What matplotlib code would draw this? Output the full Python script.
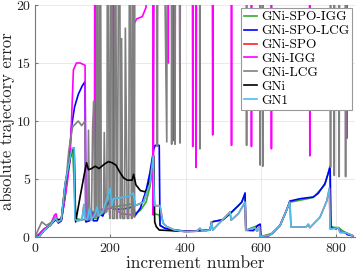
import matplotlib
matplotlib.use("Agg")
import matplotlib.pyplot as plt

plt.rcParams['font.family'] = ['cmr10', 'DejaVu Serif']
plt.rcParams['axes.formatter.use_mathtext'] = True
plt.rcParams['mathtext.fontset'] = 'cm'

# ---------------- data (increment number, absolute trajectory error) -------------
spo_igg_x = [0, 10, 25, 40, 55, 62, 70, 80, 90, 97, 100, 108, 120, 135, 145, 150, 155, 165, 172, 180, 190, 200, 205,
             208, 230, 250, 262, 265, 280, 295, 305, 310, 314, 316, 330, 333, 345, 370, 400, 440, 465, 469, 500, 522, 549,
             558, 560, 592, 598, 600, 630, 651, 668, 677, 739, 770, 783, 786, 806, 823, 845]
spo_igg_y = [0, 0.2, 0.7, 1.0, 1.7, 1.3, 1.5, 3.6, 6.4, 7.5, 7.6, 1.6, 1.5, 1.5, 1.6, 2.3, 1.6, 1.6, 2.1, 1.9, 2.8, 3.3, 3.3,
             2.6, 2.7, 2.8, 2.9, 2.0, 2.3, 3.0, 4.3, 5.3, 6.0, 2.0, 1.9, 1.0, 0.75, 0.6, 0.5, 0.55, 0.6, 1.3, 1.5, 2.1, 3.0,
             3.6, 0.58, 1.0, 1.1, 0.05, 0.3, 1.0, 2.3, 3.0, 3.4, 4.5, 6.0, 0.86, 0.8, 0.4, 0.1]

spo_lcg_x = [0, 10, 25, 40, 55, 62, 70, 80, 90, 97, 105, 115, 125, 133, 135, 145, 150, 155, 165, 172, 180, 190, 200, 205,
             208, 230, 250, 262, 265, 280, 295, 305, 315, 319, 330, 332, 345, 370, 400, 440, 465, 469, 500, 522, 540, 549,
             558, 560, 580, 592, 598, 600, 620, 630, 651, 668, 677, 704, 739, 752, 770, 779, 784, 786, 800, 806, 812, 823,
             830, 845]
spo_lcg_y = [0, 0.2, 0.7, 1.0, 1.6, 1.2, 1.4, 3.5, 6.5, 9.5, 11.2, 12.3, 13.0, 13.4, 1.3, 1.4, 2.2, 1.4, 1.4, 2.0, 1.8,
             2.6, 3.2, 3.3, 2.4, 2.4, 2.5, 2.7, 1.8, 2.5, 4.0, 5.5, 7.5, 7.9, 7.9, 1.0, 0.75, 0.6, 0.5, 0.55, 0.6, 1.3,
             1.5, 2.15, 2.7, 3.0, 3.8, 0.58, 0.55, 1.0, 1.1, 0.05, 0.1, 0.3, 1.0, 2.3, 3.1, 3.3, 3.45, 3.75, 4.6, 5.5, 6.1,
             0.86, 0.7, 0.8, 0.4, 0.4, 0.2, 0.1]

spo_x = [0, 10, 25, 40, 55, 62, 70, 80, 98, 104, 106, 115, 125, 130, 133, 140, 145, 150, 160, 165, 170, 180, 190, 200,
         204, 208, 230, 250, 261, 266, 288, 305, 314, 317, 332, 340, 350, 370, 400, 430, 438, 445, 465, 469, 472, 518, 521,
         540, 558, 560, 584, 590, 596, 598, 624, 651, 668, 677, 680, 720, 726, 730, 757, 775, 782, 784, 806, 810, 823, 845]
spo_y = [0, 0.0, 0.6, 1.0, 1.6, 1.3, 1.5, 4.6, 7.6, 7.7, 1.5, 1.4, 1.5, 2.8, 1.5, 1.6, 2.5, 1.5, 2.0, 2.6, 1.8, 2.2, 3.2,
         4.2, 2.7, 3.3, 3.4, 3.5, 3.8, 2.7, 3.0, 4.6, 7.0, 2.7, 2.7, 1.2, 0.9, 0.6, 0.45, 0.5, 0.75, 0.5, 0.6, 1.3, 0.6,
         2.15, 1.45, 2.0, 3.0, 0.58, 0.8, 0.5, 0.9, 0.05, 0.15, 1.0, 2.3, 3.0, 0.86, 0.86, 1.1, 0.8, 1.7, 3.1, 4.2, 0.7,
         0.8, 0.4, 0.4, 0.1]

igg_x = [0, 10, 25, 40, 52, 56, 60, 70, 85, 93, 102, 110, 120, 133, 135, 150, 158, 159, 161, 205, 207, 209, 230, 261,
         262, 270, 285, 295, 300, 312, 314, 318, 352, 354, 356, 364, 366, 368, 383, 385, 387, 417, 419, 421, 426, 428,
         430, 470, 472, 474, 520, 522, 524, 573, 575, 577, 626, 628, 630, 728, 730, 732, 826, 828, 830, 850]
igg_y = [0, 0.2, 0.7, 1.0, 1.9, 2.0, 1.3, 1.5, 4.5, 6.6, 14.4, 15.0, 15.0, 14.8, 1.6, 1.6, 2.3, 40, 2.3, 2.5, 40, 2.5, 2.0,
         1.9, 18.3, 18.8, 19.0, 19.8, 40, 40, 1.9, 40, 40, 15.0, 40, 40, 8.3, 40, 40, 8.3, 40, 40, 7.8, 40, 40, 6.0,
         40, 40, 8.8, 40, 40, 7.9, 40, 40, 7.8, 40, 40, 7.6, 40, 40, 7.0, 40, 40, 8.5, 40, 40]

lcg_x = [0, 8, 18, 30, 45, 55, 60, 70, 80, 90, 100, 115, 124, 133, 135, 140, 142, 145, 150, 153, 156, 159, 163, 166,
         168, 171, 173, 176, 182, 184, 187, 191, 193, 197, 199, 203, 206, 211, 213, 217, 219, 224, 227, 230, 233, 238,
         240, 245, 249, 252, 256, 258, 261, 264, 266, 323, 325, 327, 338, 350, 352, 361, 363, 365, 370, 372, 374, 383,
         385, 387, 436, 438, 440, 560, 562, 564, 596, 598, 601, 603, 605, 607, 783, 785, 787, 793, 795, 797, 806, 808,
         810, 823, 825, 827, 850]
lcg_y = [0, 0.6, 1.3, 1.0, 1.3, 1.7, 1.4, 1.6, 4.0, 7.5, 9.5, 10.0, 9.6, 10.0, 1.5, 1.5, 9.2, 1.5, 1.6, 9.4, 11.7, 1.7,
         1.8, 40, 1.9, 1.9, 40, 2.0, 2.1, 9.0, 2.1, 2.2, 40, 2.4, 1.6, 40, 1.6, 1.6, 40, 1.6, 1.6, 40, 1.6, 17.1, 1.6,
         1.6, 18.0, 1.6, 1.6, 40, 1.6, 1.6, 40, 1.7, 40, 40, 7.8, 40, 40, 8.2, 40, 40, 8.0, 40, 40, 8.0, 40, 40, 8.1,
         40, 40, 7.6, 40, 40, 7.9, 40, 40, 6.2, 40, 40, 6.1, 40, 40, 6.0, 40, 40, 5.3, 40, 40, 5.2, 40, 40, 5.2, 40, 40]

gni_x = [0, 10, 25, 40, 55, 62, 70, 80, 98, 104, 108, 120, 132, 137, 142, 150, 160, 170, 185, 195, 205, 215, 225, 235,
         245, 258, 262, 268, 280, 292, 300, 308, 315, 318, 322, 330, 360, 380]
gni_y = [0, 0.0, 0.6, 1.0, 1.5, 1.5, 1.5, 4.5, 7.5, 7.6, 1.3, 3.5, 5.6, 6.4, 5.8, 5.9, 6.1, 5.9, 6.3, 6.5, 6.4, 6.2, 5.6,
         5.1, 4.9, 4.9, 5.4, 4.5, 4.0, 3.9, 4.2, 5.5, 7.0, 1.3, 0.9, 0.6, 0.55, 0.5]

gn1_x = spo_x
gn1_y = spo_y

series = [
    ("GNi-SPO-IGG", spo_igg_x, spo_igg_y, "#33aa33"),
    ("GNi-SPO-LCG", spo_lcg_x, spo_lcg_y, "#0000ff"),
    ("GNi-SPO", spo_x, spo_y, "#ff2020"),
    ("GNi-IGG", igg_x, igg_y, "#ff00ff"),
    ("GNi-LCG", lcg_x, lcg_y, "#808080"),
    ("GNi", gni_x, gni_y, "#000000"),
    ("GN1", gn1_x, gn1_y, "#4dbeee"),
]

x_ticks = [0, 200, 400, 600, 800]
y_ticks = [0, 5, 10, 15, 20]

fig = plt.figure(figsize=(3.57, 2.73), dpi=100)
ax = fig.add_axes([35 / 357, 36 / 273, 320 / 357, 232 / 273])
for name, xs, ys, c in series:
    ax.plot(xs, ys, color=c, lw=1.2, label=name)

ax.set_xlim(0, 850)
ax.set_ylim(0, 20)
ax.set_xticks(x_ticks)
ax.set_yticks(y_ticks)
ax.grid(True, color="#e6e6e6", lw=0.6)
ax.set_axisbelow(True)
for s in ["top", "right"]:
    ax.spines[s].set_visible(False)
for s in ["left", "bottom"]:
    ax.spines[s].set_color("#777777")
    ax.spines[s].set_linewidth(0.8)
ax.tick_params(direction="in", length=2.5, colors="#777777", labelcolor="#222222", labelsize=10)
ax.tick_params(axis="x", pad=3.5)
ax.tick_params(axis="y", pad=3)
ax.set_xlabel("increment number", fontsize=12.5, color="#222222")
ax.set_ylabel("absolute trajectory error", fontsize=12, color="#222222")
ax.xaxis.set_label_coords(0.5, -0.0797)
ax.yaxis.set_label_coords(-0.061, 0.5)

leg = ax.legend(loc="upper right", bbox_to_anchor=(1.0, 1.0), fontsize=9.6, frameon=True, fancybox=False,
                borderpad=0.25, labelspacing=0.12, handlelength=1.0, handletextpad=0.25, borderaxespad=0.2)
leg.get_frame().set_edgecolor("#999999")
leg.get_frame().set_linewidth(0.8)
leg.get_frame().set_alpha(1)

fig.savefig("out.png", dpi=100)
